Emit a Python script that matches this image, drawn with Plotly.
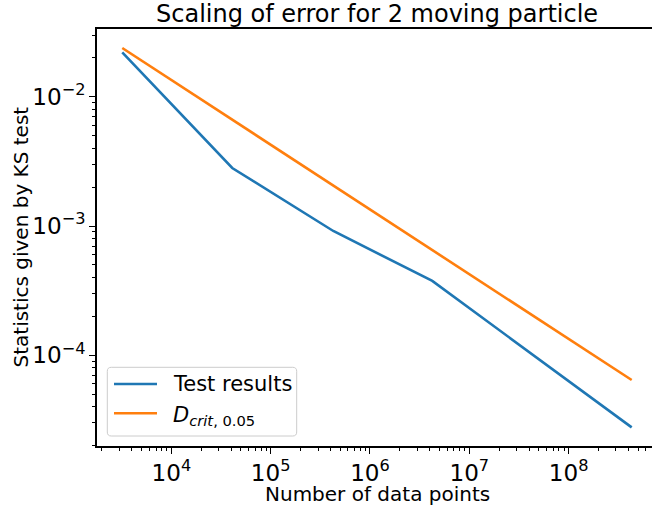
import plotly.graph_objects as go

# Data
n_points = [3200, 41000, 427000, 4240000, 432000000]
test_results = [0.02205, 0.00281, 0.000915, 0.000376, 2.77e-5]
d_crit = [0.0238, 0.00664, 0.00206, 0.000652, 6.44e-5]

title_text = "Scaling of error for 2 moving particle"
x_label = "Number of data points"
y_label = "Statistics given by KS test"
series_names = ["Test results", "<i>D</i><sub><i>crit</i>, 0.05</sub>"]

BLUE = "#1f77b4"
ORANGE = "#ff7f0e"
COLORS = [BLUE, ORANGE]
FONT = "DejaVu Sans"
LW = 2.6

fig = go.Figure()
fig.add_trace(go.Scatter(x=n_points, y=test_results, mode="lines",
                         line=dict(color=BLUE, width=LW), name=series_names[0],
                         showlegend=False))
fig.add_trace(go.Scatter(x=n_points, y=d_crit, mode="lines",
                         line=dict(color=ORANGE, width=LW), name=series_names[1],
                         showlegend=False))

W, H = 652, 506
L, R, T, B = 97, 0, 29, 60
pw, ph = W - L - R, H - T - B

def px_x(x):
    return (x - L) / pw

def px_y(y):
    return (H - B - y) / ph

axis_common = dict(
    showgrid=False, zeroline=False, showline=True, linecolor="black", linewidth=1.5,
    ticks="outside", ticklen=6, tickwidth=1.3, tickcolor="black",
    dtick=1, exponentformat="power", showexponent="all",
    tickfont=dict(family=FONT, size=18.5, color="black"),
    minor=dict(ticks="outside", ticklen=3.5, tickwidth=1.1, tickcolor="black",
               dtick="D1", showgrid=False),
)

fig.update_xaxes(type="log", range=[3.2508, 8.840], mirror=True, **axis_common)
fig.update_yaxes(type="log", range=[-4.7015, -1.4764], mirror=False, **axis_common)

# Custom legend (matplotlib-like, rounded frame, long line samples)
lx0, lx1, ly0, ly1, rad = 107.3, 296.7, 367.3, 436.0, 4.0
def P(x, y):
    return f"{px_x(x):.5f},{px_y(y):.5f}"

frame_path = (
    f"M {P(lx0 + rad, ly0)} L {P(lx1 - rad, ly0)} Q {P(lx1, ly0)} {P(lx1, ly0 + rad)} "
    f"L {P(lx1, ly1 - rad)} Q {P(lx1, ly1)} {P(lx1 - rad, ly1)} "
    f"L {P(lx0 + rad, ly1)} Q {P(lx0, ly1)} {P(lx0, ly1 - rad)} "
    f"L {P(lx0, ly0 + rad)} Q {P(lx0, ly0)} {P(lx0 + rad, ly0)} Z"
)
shapes = [dict(type="path", path=frame_path, xref="paper", yref="paper",
               fillcolor="rgba(255,255,255,0.8)", line=dict(color="#cccccc", width=1))]
entry_y = [384.0, 413.3]
text_dy = [0.0, 3.0]
annotations = []
for name, col, ey, dy in zip(series_names, COLORS, entry_y, text_dy):
    shapes.append(dict(type="line", xref="paper", yref="paper",
                       x0=px_x(114), x1=px_x(157), y0=px_y(ey), y1=px_y(ey),
                       line=dict(color=col, width=LW)))
    annotations.append(dict(text=name, x=px_x(170.5), y=px_y(ey + dy), xref="paper", yref="paper",
                            showarrow=False, xanchor="left", yanchor="middle",
                            font=dict(family=FONT, size=21, color="black")))

annotations += [
    dict(text=title_text, x=px_x(377), y=px_y(14), xref="paper", yref="paper",
         showarrow=False, xanchor="center", yanchor="middle",
         font=dict(family=FONT, size=24, color="black")),
    dict(text=x_label, x=px_x(377), y=px_y(494), xref="paper", yref="paper",
         showarrow=False, xanchor="center", yanchor="middle",
         font=dict(family=FONT, size=20, color="black")),
    dict(text=y_label, x=px_x(20), y=px_y(237.5), xref="paper", yref="paper",
         showarrow=False, xanchor="center", yanchor="middle", textangle=-90,
         font=dict(family=FONT, size=20, color="black")),
]

fig.update_layout(
    width=W, height=H,
    margin=dict(l=L, r=R, t=T, b=B, pad=0),
    paper_bgcolor="white", plot_bgcolor="white",
    font=dict(family=FONT, size=20, color="black"),
    showlegend=False,
    shapes=shapes,
    annotations=annotations,
)

fig.write_html("out.html")
